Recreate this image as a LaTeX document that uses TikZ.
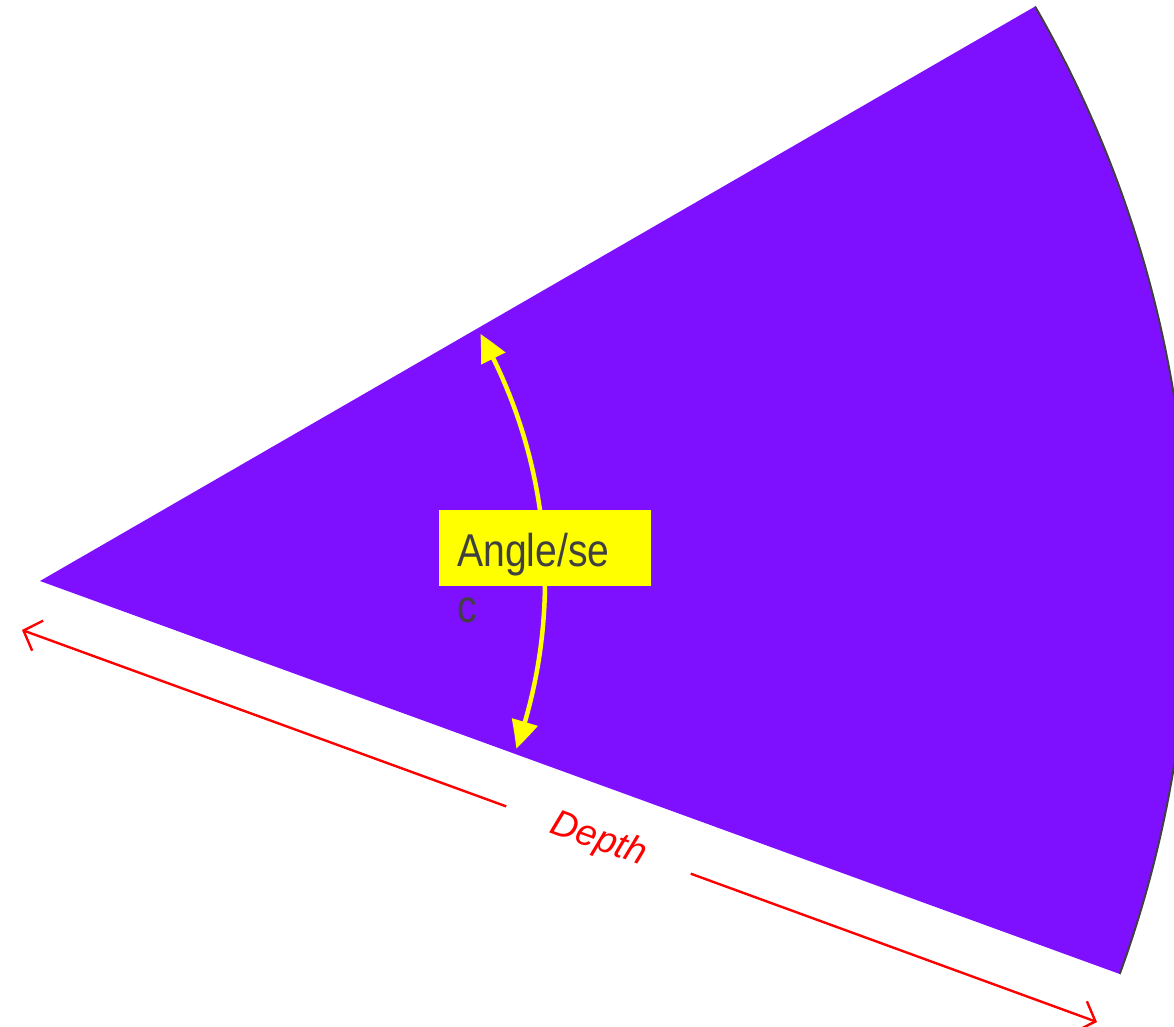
\documentclass[tikz,border=0pt]{standalone}
\usepackage{fontspec}
\setmainfont{Liberation Sans}
\newfontfamily\narrowsf[FakeStretch=0.85]{Liberation Sans}
\usepackage{tikz}
\usetikzlibrary{arrows.meta, calc, bending}
\definecolor{sectorpurple}{HTML}{7F10FF}
\definecolor{edgegray}{HTML}{404040}
\definecolor{labelgray}{HTML}{404040}
\definecolor{markyellow}{HTML}{FFFF00}
\definecolor{dimred}{HTML}{FF0000}

\begin{document}
\begin{tikzpicture}[x=1pt, y=1pt, font=\narrowsf]
    \useasboundingbox (0,0) rectangle (1174,1026);
    \clip (0,0) rectangle (1174,1026);

    \coordinate (apex) at (40,445);

    % the sector itself
    \fill[sectorpurple] (apex) -- ++(30:1149) arc[start angle=30, end angle=-20, radius=1149] -- cycle;
    \draw[edgegray, line width=2pt] ($(apex)+(30:1149)$) arc[start angle=30, end angle=-20, radius=1149];

    % angle marker
    \draw[markyellow, line width=4.5pt, {Triangle[length=28pt, width=26pt, bend]}-{Triangle[length=28pt, width=26pt, bend]}]
        ($(apex)+(29.3:505)$) arc[start angle=29.3, end angle=-19.4, radius=505];

    \node[fill=markyellow, minimum width=212, minimum height=76, inner sep=0] (anglebox) at (545,478) {};
    \node[anchor=base west, align=left, inner sep=0, text=labelgray, font=\narrowsf\fontsize{46}{56}\selectfont] (anglelbl) at (457,403) {Angle/se\\c};

    % depth dimension
    \coordinate (depthL) at (22,396);
    \coordinate (depthR) at (1097,4);
    \node[rotate=-20, minimum width=196, minimum height=30, inner sep=0, text=dimred, font=\itshape\fontsize{37}{44}\selectfont] (depth) at (598.5,186) {Depth};

    \draw[dimred, line width=2.4pt, -{Straight Barb[length=15pt, width=32pt]}] (depth) -- (depthL);
    \draw[dimred, line width=2.4pt, -{Straight Barb[length=15pt, width=32pt]}] (depth) -- (depthR);
\end{tikzpicture}
\end{document}
